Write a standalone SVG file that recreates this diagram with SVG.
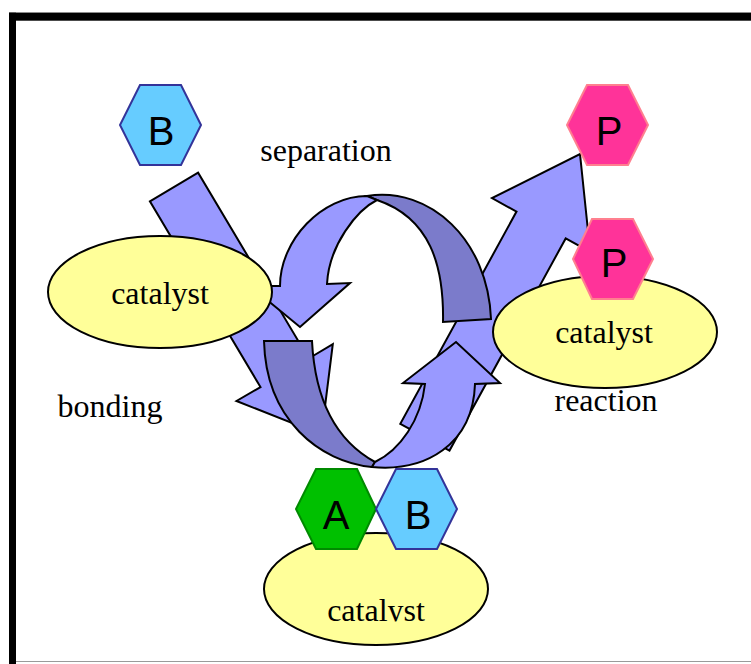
<svg xmlns="http://www.w3.org/2000/svg" width="751" height="664" viewBox="0 0 751 664">
  <style>
    .arrow { fill: #9999ff; stroke: #000; stroke-width: 2; stroke-linejoin: miter; }
    .back { fill: #7b7bcb; stroke: #000; stroke-width: 2; }
    .cat { fill: #ffff99; stroke: #000; stroke-width: 2; }
    .cat-text { font-family: "Liberation Serif", "Times New Roman", serif; font-size: 32px; fill: #000; text-anchor: middle; }
    .label { font-family: "Liberation Serif", "Times New Roman", serif; font-size: 32px; fill: #000; text-anchor: middle; }
    .hex-b { fill: #66ccff; stroke: #333399; stroke-width: 2; }
    .hex-a { fill: #00c000; stroke: #008a00; stroke-width: 2; }
    .hex-p { fill: #ff3399; stroke: #ff7f8f; stroke-width: 2; }
    .sym { font-family: "Liberation Sans", Arial, sans-serif; font-size: 40px; fill: #000; text-anchor: middle; }
  </style>
  <defs>
    <clipPath id="cut-bottom">
      <rect x="0" y="0" width="751" height="621.5"/>
    </clipPath>
  </defs>

  <rect width="751" height="664" fill="#fff"/>

  <!-- slide frame -->
  <g id="frame">
    <line x1="9" y1="12.5" x2="751" y2="12.5" stroke="#c8c8c8" stroke-width="1"/>
    <rect x="9" y="12.7" width="742" height="8" fill="#000"/>
    <rect x="9" y="12.7" width="7" height="652" fill="#000"/>
    <line x1="16" y1="661.5" x2="751" y2="661.5" stroke="#9a9a9a" stroke-width="1.2"/>
  </g>

  <g id="connectors">
    <!-- bonding arrow -->
    <path id="arrow-bonding" class="arrow" d="M149.9,201.3 L198.1,172.7 L308.7,358.5 L332.8,344.1 L321.5,434.7 L236.5,401 L260.5,387.1 Z"/>
    <!-- reaction arrow -->
    <path id="arrow-reaction" class="arrow" d="M580,154 L590.2,251.9 L565.7,238.4 L449.5,450.6 L400.3,423.8 L516.5,211.6 L492,198.1 Z"/>
    <!-- separation cycle: upper arc -->
    <path id="cycle-top-back" class="back" d="M367,196 C430,186 488,240 491,319 L443,322 C444,265 430,218 377,200 Z"/>
    <path id="cycle-top-front" class="arrow" d="M367,196 C322,196 280,240 280,286 L250,286 L300,327 L350,283 L327,284 C329,245 357,210 377,200 Z"/>
    <!-- bonding cycle: lower arc -->
    <path id="cycle-bottom-back" class="back" d="M264,341 L312,341 C315,400 335,440 375,462 L372,467 C320,462 266,420 264,341 Z"/>
    <path id="cycle-bottom-front" class="arrow" d="M372,467 C425,472 473,445 475,384 L500,383 L456,342 L403,383 L425,384 C421,420 400,450 375,462 Z"/>
  </g>

  <g id="catalyst-left">
    <ellipse class="cat" cx="160" cy="292" rx="112" ry="56"/>
    <text class="cat-text" x="160" y="304">catalyst</text>
  </g>
  <g id="catalyst-right">
    <ellipse class="cat" cx="605" cy="332" rx="112" ry="56"/>
    <text class="cat-text" x="604" y="343">catalyst</text>
  </g>
  <g id="catalyst-bottom">
    <ellipse class="cat" cx="376" cy="589" rx="112" ry="56"/>
    <text class="cat-text" x="376" y="621" clip-path="url(#cut-bottom)">catalyst</text>
  </g>

  <g id="hex-b-top">
    <polygon class="hex-b" points="140,85 181,85 201,125 181,165 140,165 120,125"/>
    <text class="sym" x="161" y="145">B</text>
  </g>
  <g id="hex-p-top">
    <polygon class="hex-p" points="587,85 628,85 648,125 628,165 587,165 567,125"/>
    <text class="sym" x="609" y="145">P</text>
  </g>
  <g id="hex-p-bound">
    <polygon class="hex-p" points="592,219 633,219 653,259 633,299 592,299 573,259"/>
    <text class="sym" x="614" y="277">P</text>
  </g>
  <g id="hex-a-bound">
    <polygon class="hex-a" points="316,469 357,469 376,509 357,549 316,549 296,509"/>
    <text class="sym" x="336" y="529">A</text>
  </g>
  <g id="hex-b-bound">
    <polygon class="hex-b" points="396,469 437,469 457,509 437,549 396,549 376,509"/>
    <text class="sym" x="418" y="529">B</text>
  </g>

  <g id="labels">
    <text class="label" x="326" y="161">separation</text>
    <text class="label" x="110" y="417">bonding</text>
    <text class="label" x="606" y="411">reaction</text>
  </g>
</svg>
